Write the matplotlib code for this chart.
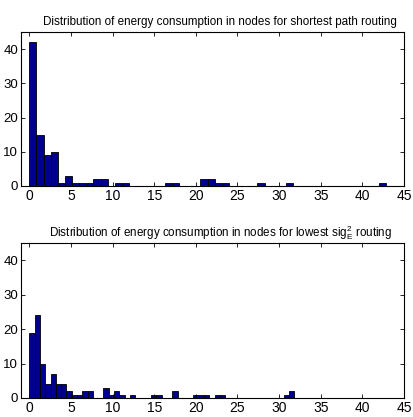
import matplotlib

matplotlib.use("Agg")
import matplotlib.pyplot as plt
import numpy as np

# histogram counts, 50 bins each (MATLAB hist style)
shortest_counts = [42, 15, 9, 10, 1, 3, 1, 1, 1, 2,
                   2, 0, 1, 1, 0, 0, 0, 0, 0, 1,
                   1, 0, 0, 0, 2, 2, 1, 1, 0, 0,
                   0, 0, 1, 0, 0, 0, 1, 0, 0, 0,
                   0, 0, 0, 0, 0, 0, 0, 0, 0, 1]
shortest_range = (0.0, 42.8)

lowest_counts = [19, 24, 10, 4, 7, 4, 4, 2, 1, 1,
                 2, 2, 0, 0, 3, 1, 2, 1, 0, 1,
                 0, 0, 0, 1, 1, 0, 0, 2, 0, 0,
                 0, 1, 1, 1, 0, 1, 1, 0, 0, 0,
                 0, 0, 0, 0, 0, 0, 0, 0, 1, 2]
lowest_range = (0.0, 31.8)

titles = [
    "Distribution of energy consumption in nodes for shortest path routing",
    r"Distribution of energy consumption in nodes for lowest sig$_\mathregular{E}^\mathregular{2}$ routing",
]
xticks = [0, 5, 10, 15, 20, 25, 30, 35, 40, 45]
yticks = [0, 10, 20, 30, 40]

plt.rcParams["font.family"] = ["Liberation Sans", "DejaVu Sans"]
plt.rcParams["mathtext.fontset"] = "custom"
plt.rcParams["mathtext.rm"] = "Liberation Sans"

W, H = 413, 417
fig = plt.figure(figsize=(W / 100, H / 100), dpi=100)


def panel(rect_px, counts, rng, title):
    l, t, r, b = rect_px
    ax = fig.add_axes([l / W, 1 - b / H, (r - l) / W, (b - t) / H])
    edges = np.linspace(rng[0], rng[1], len(counts) + 1)
    ax.bar(edges[:-1], counts, width=np.diff(edges), align="edge",
           color="#000090", edgecolor="black", linewidth=0.6)
    ax.set_xlim(-1, 45)
    ax.set_ylim(0, 45)
    ax.set_xticks(xticks)
    ax.set_yticks(yticks)
    ax.tick_params(direction="in", length=3, width=0.6, top=True, right=True,
                   pad=2)
    ax.tick_params(axis="x", labelsize=10, pad=2)
    ax.tick_params(axis="y", labelsize=9.5)
    for s in ax.spines.values():
        s.set_linewidth(0.8)
    ax.set_title(title, fontsize=8.4, pad=5, x=0.52)
    return ax


panel((21, 32, 404, 186), shortest_counts, shortest_range, titles[0])
panel((21, 243, 404, 398), lowest_counts, lowest_range, titles[1])

fig.savefig("out.png", dpi=100)
